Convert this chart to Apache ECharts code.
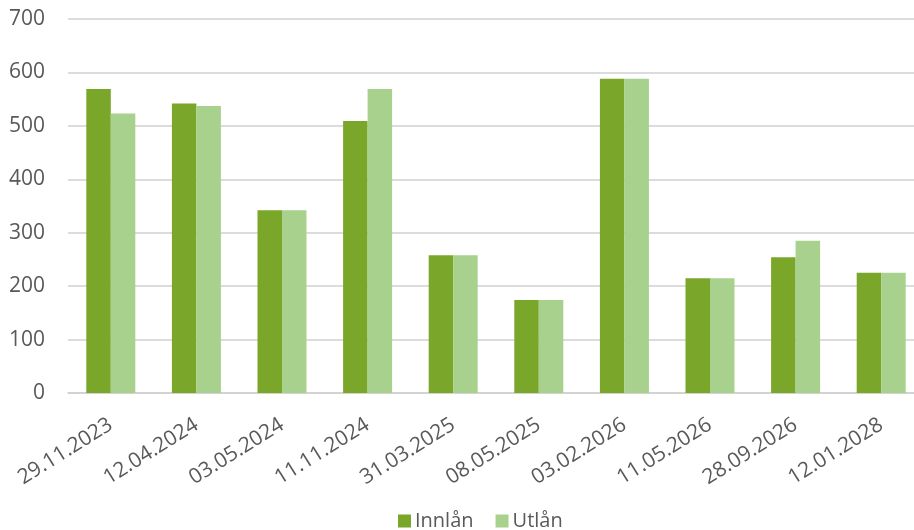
<!DOCTYPE html>
<html>
<head>
<meta charset="utf-8">
<script src="https://cdn.jsdelivr.net/npm/echarts@6/dist/echarts.min.js"></script>
<style>html,body{margin:0;padding:0;background:#fff}#c{width:914px;height:530px}</style>
</head>
<body>
<div id="c"></div>
<script>
const categories = ["29.11.2023","12.04.2024","03.05.2024","11.11.2024","31.03.2025","08.05.2025","03.02.2026","11.05.2026","28.09.2026","12.01.2028"];
const innlan = [569, 542, 342, 509, 258, 174, 588, 215, 254, 225];
const utlan  = [523, 537, 342, 569, 258, 174, 588, 215, 285, 225];
const yTicks = [0, 100, 200, 300, 400, 500, 600, 700];

const font = "'Open Sans', sans-serif";
const chart = echarts.init(document.getElementById('c'), null, {renderer: 'canvas'});
chart.setOption({
  animation: false,
  grid: {left: 68, top: 19, width: 856, height: 374, containLabel: false, outerBoundsMode: 'none'},
  legend: {
    data: ['Innlån', 'Utlån'],
    left: 393, top: 506,
    itemWidth: 13, itemHeight: 13, itemGap: 22,
    icon: 'rect',
    textStyle: {fontFamily: font, fontSize: 20, color: '#595959', padding: [0,0,0,-1]}
  },
  xAxis: {
    type: 'category', data: categories,
    axisLine: {show: true, lineStyle: {color: '#d0d0d0', width: 1.5}},
    axisTick: {show: false},
    axisLabel: {rotate: 32, margin: 30, fontFamily: font, fontSize: 21, color: '#595959', interval: 0}
  },
  yAxis: {
    type: 'value', min: yTicks[0], max: yTicks[yTicks.length-1], interval: 100,
    axisLine: {show: false}, axisTick: {show: false},
    axisLabel: {margin: 23, fontFamily: font, fontSize: 21, color: '#595959'},
    splitLine: {lineStyle: {color: '#d0d0d0', width: 1.5}}
  },
  series: [
    {name: 'Innlån', type: 'bar', data: innlan, barWidth: 24.5, barGap: '0%', itemStyle: {color: '#7aa62a'}},
    {name: 'Utlån', type: 'bar', data: utlan, barWidth: 24.5, barGap: '0%', itemStyle: {color: '#a9d18e'}}
  ]
});
</script>
</body>
</html>
